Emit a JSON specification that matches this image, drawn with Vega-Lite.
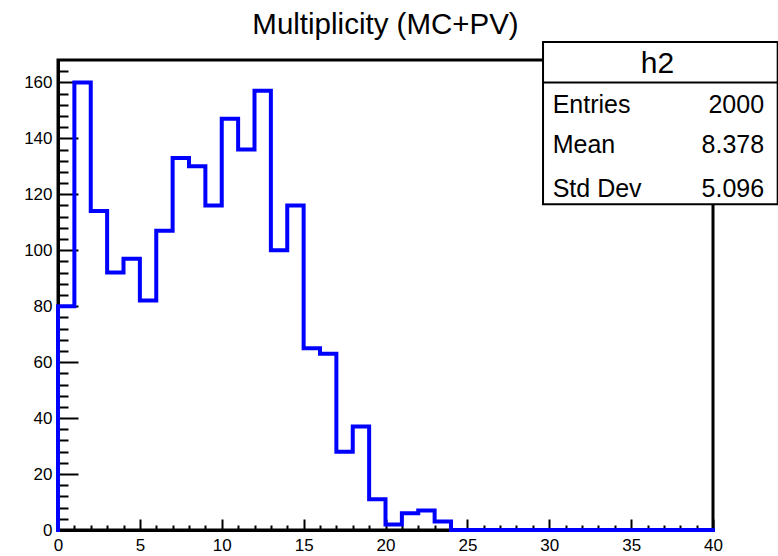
{
  "$schema": "https://vega.github.io/schema/vega-lite/v6.json",
  "width": 655,
  "height": 470,
  "autosize": {"type": "none"},
  "padding": {"left": 58, "top": 60, "right": 65, "bottom": 26},
  "background": "white",
  "title": {"text": "Multiplicity (MC+PV)", "font": "Liberation Sans", "fontSize": 29.5, "fontWeight": "normal", "color": "black", "anchor": "middle", "frame": "group", "baseline": "alphabetic", "offset": 0, "dy": 22},
  "config": {
    "view": {"stroke": "black", "strokeWidth": 3},
    "axis": {"domainColor": "black", "domainWidth": 3, "tickColor": "black", "tickWidth": 2, "grid": false, "labelFont": "Liberation Sans", "labelFontSize": 17, "labelColor": "black", "labelOverlap": false, "labelFlush": false, "title": null, "tickCount": 200, "format": "d"}
  },
  "datasets": {
    "hist": [
      {"x": 0, "n": 0},
      {"x": 0, "n": 80}, {"x": 1, "n": 160}, {"x": 2, "n": 114}, {"x": 3, "n": 92}, {"x": 4, "n": 97},
      {"x": 5, "n": 82}, {"x": 6, "n": 107}, {"x": 7, "n": 133}, {"x": 8, "n": 130}, {"x": 9, "n": 116},
      {"x": 10, "n": 147}, {"x": 11, "n": 136}, {"x": 12, "n": 157}, {"x": 13, "n": 100}, {"x": 14, "n": 116},
      {"x": 15, "n": 65}, {"x": 16, "n": 63}, {"x": 17, "n": 28}, {"x": 18, "n": 37}, {"x": 19, "n": 11},
      {"x": 20, "n": 2}, {"x": 21, "n": 6}, {"x": 22, "n": 7}, {"x": 23, "n": 3}, {"x": 24, "n": 0},
      {"x": 25, "n": 0}, {"x": 26, "n": 0}, {"x": 27, "n": 0}, {"x": 28, "n": 0}, {"x": 29, "n": 0},
      {"x": 30, "n": 0}, {"x": 31, "n": 0}, {"x": 32, "n": 0}, {"x": 33, "n": 0}, {"x": 34, "n": 0},
      {"x": 35, "n": 0}, {"x": 36, "n": 0}, {"x": 37, "n": 0}, {"x": 38, "n": 0}, {"x": 39, "n": 0},
      {"x": 40, "n": 0}
    ],
    "box": [{"name": "h2"}],
    "stats": [
      {"stat": "Entries", "value": "2000"},
      {"stat": "Mean", "value": "8.378"},
      {"stat": "Std Dev", "value": "5.096"}
    ]
  },
  "layer": [
    {
      "data": {"name": "hist"},
      "mark": {"type": "line", "interpolate": "step-after", "color": "#0000ff", "strokeWidth": 4, "strokeJoin": "miter", "strokeCap": "square", "clip": false},
      "encoding": {
        "x": {"field": "x", "type": "quantitative", "scale": {"domain": [0, 40], "nice": false, "zero": false},
          "axis": {"values": [0,1,2,3,4,5,6,7,8,9,10,11,12,13,14,15,16,17,18,19,20,21,22,23,24,25,26,27,28,29,30,31,32,33,34,35,36,37,38,39,40],
            "tickCount": 200, "format": "d",
            "tickSize": {"condition": {"test": "datum.value % 5 === 0", "value": -11}, "value": -5},
            "labelExpr": "datum.value % 5 === 0 ? datum.label : ''",
            "labelPadding": 18}},
        "y": {"field": "n", "type": "quantitative", "scale": {"domain": [0, 168], "nice": false},
          "axis": {"values": [0,4,8,12,16,20,24,28,32,36,40,44,48,52,56,60,64,68,72,76,80,84,88,92,96,100,104,108,112,116,120,124,128,132,136,140,144,148,152,156,160,164],
            "tickCount": 200, "format": "d",
            "tickSize": {"condition": {"test": "datum.value % 20 === 0", "value": -20}, "value": -10},
            "labelExpr": "datum.value % 20 === 0 ? datum.label : ''",
            "labelPadding": 26}}
      }
    },
    {
      "data": {"name": "box"},
      "mark": {"type": "rect", "fill": "white", "stroke": "black", "strokeWidth": 2, "clip": false},
      "encoding": {
        "x": {"datum": 29.62, "type": "quantitative"},
        "x2": {"datum": 43.95},
        "y": {"datum": 174.4, "type": "quantitative"},
        "y2": {"datum": 116.4}
      }
    },
    {
      "data": {"name": "box"},
      "mark": {"type": "rule", "stroke": "black", "strokeWidth": 2, "clip": false},
      "encoding": {
        "x": {"datum": 29.62, "type": "quantitative"},
        "x2": {"datum": 43.95},
        "y": {"datum": 160.0, "type": "quantitative"}
      }
    },
    {
      "data": {"name": "box"},
      "mark": {"type": "text", "font": "Liberation Sans", "fontSize": 30, "color": "black", "align": "center", "baseline": "alphabetic", "clip": false},
      "encoding": {
        "x": {"datum": 36.61, "type": "quantitative"},
        "y": {"datum": 163.2, "type": "quantitative"},
        "text": {"field": "name"}
      }
    },
    {
      "data": {"name": "stats"},
      "transform": [{"filter": "datum.stat === 'Entries'"}],
      "layer": [
        {"mark": {"type": "text", "font": "Liberation Sans", "fontSize": 25, "color": "black", "align": "left", "baseline": "alphabetic", "clip": false},
         "encoding": {"x": {"datum": 30.21, "type": "quantitative"}, "y": {"datum": 149.1, "type": "quantitative"}, "text": {"field": "stat"}}},
        {"mark": {"type": "text", "font": "Liberation Sans", "fontSize": 25, "color": "black", "align": "right", "baseline": "alphabetic", "clip": false},
         "encoding": {"x": {"datum": 43.12, "type": "quantitative"}, "y": {"datum": 149.1, "type": "quantitative"}, "text": {"field": "value"}}}
      ]
    },
    {
      "data": {"name": "stats"},
      "transform": [{"filter": "datum.stat === 'Mean'"}],
      "layer": [
        {"mark": {"type": "text", "font": "Liberation Sans", "fontSize": 25, "color": "black", "align": "left", "baseline": "alphabetic", "clip": false},
         "encoding": {"x": {"datum": 30.21, "type": "quantitative"}, "y": {"datum": 134.8, "type": "quantitative"}, "text": {"field": "stat"}}},
        {"mark": {"type": "text", "font": "Liberation Sans", "fontSize": 25, "color": "black", "align": "right", "baseline": "alphabetic", "clip": false},
         "encoding": {"x": {"datum": 43.12, "type": "quantitative"}, "y": {"datum": 134.8, "type": "quantitative"}, "text": {"field": "value"}}}
      ]
    },
    {
      "data": {"name": "stats"},
      "transform": [{"filter": "datum.stat === 'Std Dev'"}],
      "layer": [
        {"mark": {"type": "text", "font": "Liberation Sans", "fontSize": 25, "color": "black", "align": "left", "baseline": "alphabetic", "clip": false},
         "encoding": {"x": {"datum": 30.21, "type": "quantitative"}, "y": {"datum": 119.1, "type": "quantitative"}, "text": {"field": "stat"}}},
        {"mark": {"type": "text", "font": "Liberation Sans", "fontSize": 25, "color": "black", "align": "right", "baseline": "alphabetic", "clip": false},
         "encoding": {"x": {"datum": 43.12, "type": "quantitative"}, "y": {"datum": 119.1, "type": "quantitative"}, "text": {"field": "value"}}}
      ]
    }
  ]
}
